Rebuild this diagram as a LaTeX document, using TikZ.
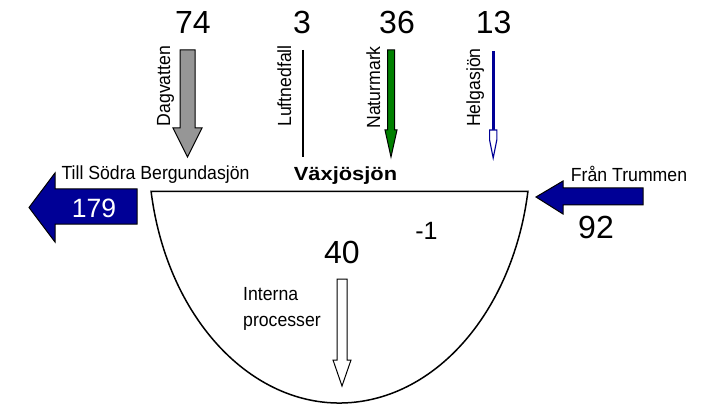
\documentclass[tikz,border=0pt]{standalone}
\usepackage{fontspec}
\usetikzlibrary{calc}
\setmainfont{Liberation Sans}
\newfontfamily\lblfont[FakeStretch=0.93]{Liberation Sans}
\newfontfamily\lakefont[FakeStretch=1.15]{Liberation Sans}

\definecolor{navy}{RGB}{0,0,150}
\definecolor{leafgreen}{RGB}{0,128,0}
\definecolor{stonegray}{RGB}{150,150,150}

% downward block arrow: centre x, shaft half width, head half width,
% top y, head start y, tip y, style
\newcommand{\downflow}[7]{%
  \draw[#7] ({#1-#2},#4) -- ({#1+#2},#4) -- ({#1+#2},#5) -- ({#1+#3},#5)
    -- (#1,#6) -- ({#1-#3},#5) -- ({#1-#2},#5) -- cycle;}

\begin{document}
\begin{tikzpicture}[x=1pt,y=-1pt,
  num/.style={font=\fontsize{32}{36}\selectfont, anchor=base, inner sep=0pt},
  lbl/.style={font=\lblfont\fontsize{19}{22}\selectfont, anchor=base, inner sep=0pt},
  vlbl/.style={lbl, rotate=90},
  outline/.style={draw=black, line width=1pt, line join=miter},
  bowl/.style={draw=black, line width=1.5pt}]
\useasboundingbox (0,0) rectangle (709,406);

% the lake basin
\coordinate (basinC) at (339.5,150);
\coordinate (basinL) at ($(basinC)+(189.4:191pt and 253pt)$);
\draw[bowl] (basinL) arc[start angle=189.4, end angle=350.6,
  x radius=191pt, y radius=253pt] -- cycle;

% inflows from above
\downflow{187.5}{7.5}{14.5}{50}{128}{157}{outline, fill=stonegray}
\draw[line width=2pt] (303,50) -- (303,157);
\downflow{391}{3.5}{6}{50}{130}{157}{outline, fill=leafgreen}
\fill[navy] (491.6,51) rectangle (494.6,130);
\draw[navy, line width=1.1pt, fill=white]
  (489.6,130) -- (496.8,130) -- (496.8,140) -- (493.2,158) -- (489.6,140) -- cycle;

% outflow and inflow through the lake
\draw[outline, fill=navy] (137,189) -- (55,189) -- (55,173) -- (29,207.5)
  -- (55,242) -- (55,224) -- (137,224) -- cycle;
\draw[outline, fill=navy] (643,188) -- (563,188) -- (563,181) -- (536,197)
  -- (563,214) -- (563,205) -- (643,205) -- cycle;

% internal processes
\downflow{342}{5}{9}{279}{360}{386}{outline, fill=white}

% amounts
\node[num] (nDag) at (193,33.3) {74};
\node[num] (nLuft) at (302,33.3) {3};
\node[num] (nNat) at (397,33.3) {36};
\node[num] (nHelg) at (493.7,33.3) {13};
\node[num, font=\fontsize{26.5}{30}\selectfont, text=white] (nOut) at (94,217) {179};
\node[num] (nIn) at (596,238) {92};
\node[num] (nInt) at (342,263) {40};
\node[num, font=\fontsize{25}{28}\selectfont] (nRest) at (426.5,239) {-1};

% labels
\node[vlbl] (lDag) at (170,86) {Dagvatten};
\node[vlbl] (lLuft) at (291,86) {Luftnedfall};
\node[vlbl] (lNat) at (380,87.5) {Naturmark};
\node[vlbl] (lHelg) at (480,87.5) {Helgasjön};
\node[lbl] (lOut) at (155.5,180) {Till Södra Bergundasjön};
\node[lbl] (lIn) at (629,182) {Från Trummen};
\node[lbl, font=\lakefont\bfseries\fontsize{19}{22}\selectfont] (lLake) at (345.5,181) {Växjösjön};
\node[lbl, anchor=base west] (lIntA) at (243,300) {Interna};
\node[lbl, anchor=base west] (lIntB) at (243,326) {processer};
\end{tikzpicture}
\end{document}
